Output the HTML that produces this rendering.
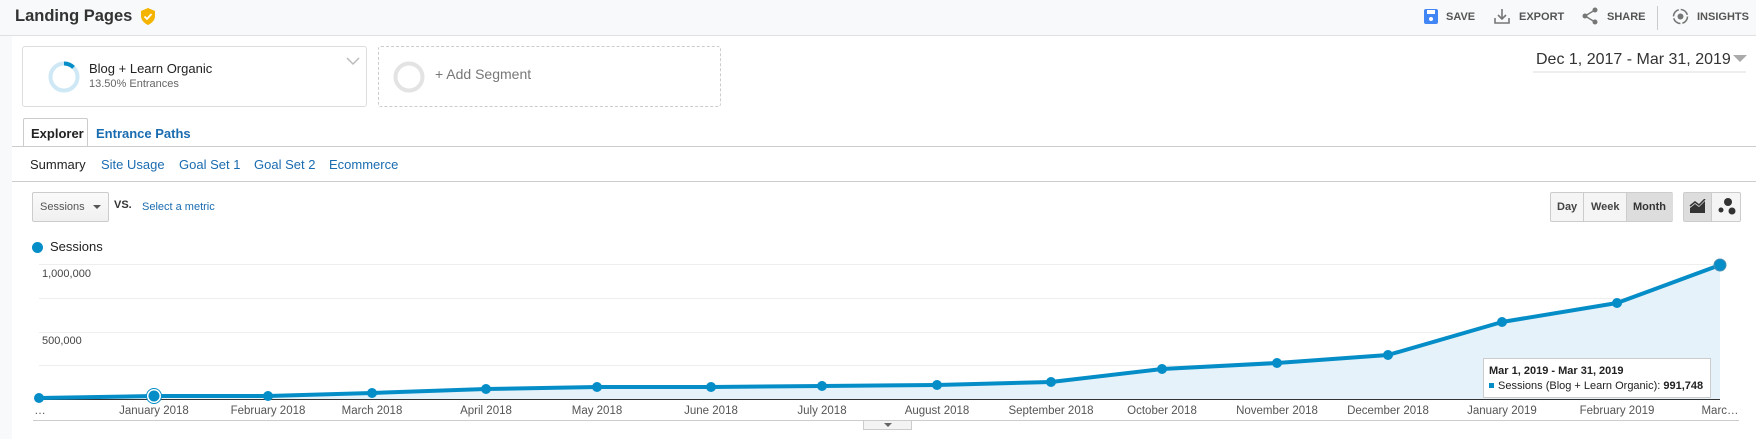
<!DOCTYPE html>
<html><head><meta charset="utf-8"><style>
*{margin:0;padding:0;box-sizing:border-box}
body{width:1756px;height:439px;overflow:hidden;background:#fff;font-family:"Liberation Sans",Arial,sans-serif;position:relative}
.a{position:absolute;white-space:nowrap}
.hdr{position:absolute;left:0;top:0;width:1756px;height:36px;background:#f8f9fa;border-bottom:1px solid #e0e0e0}
.strip{position:absolute;left:0;top:36px;width:12px;height:403px;background:#f8f9fa}
.hb{font-size:11px;font-weight:bold;color:#555;top:11px}
.blue{color:#1a6cb0}
</style></head><body>
<div class="hdr"></div>
<div class="strip"></div>
<div class="a" style="left:15px;top:7px;font-size:16.5px;font-weight:bold;color:#333">Landing Pages</div>
<svg class="a" style="left:141px;top:8px" width="14" height="17" viewBox="0 0 14 17"><path d="M7 0 L14 3 V8 C14 12 11 15 7 17 C3 15 0 12 0 8 V3Z" fill="#f4b400"/><path d="M3.5 8.5 L6 11 L10.5 6" stroke="#fff" stroke-width="1.8" fill="none"/></svg>

<svg class="a" style="left:1424px;top:9px" width="14" height="15"><rect x="0" y="0" width="14" height="15" rx="2" fill="#4285f4"/><rect x="3" y="1" width="8" height="4" fill="#fff"/><circle cx="7" cy="10" r="2" fill="#fff"/></svg>
<div class="a hb" style="left:1446px">SAVE</div>
<svg class="a" style="left:1494px;top:8px" width="16" height="16"><path d="M8 1V11M4 7L8 11L12 7M1 10V15H15V10" stroke="#777" stroke-width="1.6" fill="none"/></svg>
<div class="a hb" style="left:1519px">EXPORT</div>
<svg class="a" style="left:1582px;top:7px" width="16" height="18"><circle cx="13" cy="3" r="2.5" fill="#777"/><circle cx="3" cy="9" r="2.5" fill="#777"/><circle cx="13" cy="15" r="2.5" fill="#777"/><path d="M13 3L3 9L13 15" stroke="#777" stroke-width="1.4" fill="none"/></svg>
<div class="a hb" style="left:1607px">SHARE</div>
<div class="a" style="left:1657px;top:6px;width:1px;height:24px;background:#ccc"></div>
<svg class="a" style="left:1672px;top:8px" width="17" height="17"><circle cx="8.5" cy="8.5" r="7" stroke="#777" stroke-width="1.6" fill="none" stroke-dasharray="9 2"/><circle cx="8.5" cy="8.5" r="3" fill="#777"/></svg>
<div class="a hb" style="left:1697px">INSIGHTS</div>

<div class="a" style="left:22px;top:46px;width:345px;height:61px;border:1px solid #ddd;border-radius:3px"></div>
<svg class="a" style="left:48px;top:61px" width="32" height="32"><circle cx="16" cy="16" r="13.5" stroke="#cfe8f5" stroke-width="4" fill="none"/><path d="M16 2.5 A13.5 13.5 0 0 1 25.5 6.4" stroke="#058dc7" stroke-width="4" fill="none"/></svg>
<div class="a" style="left:89px;top:61px;font-size:13px;color:#222">Blog + Learn Organic</div>
<div class="a" style="left:89px;top:78px;font-size:11px;color:#666">13.50% Entrances</div>
<svg class="a" style="left:346px;top:57px" width="14" height="9"><path d="M1 1L7 7L13 1" stroke="#bbb" stroke-width="1.5" fill="none"/></svg>
<div class="a" style="left:378px;top:46px;width:343px;height:61px;border:1px dashed #ccc;border-radius:3px"></div>
<svg class="a" style="left:393px;top:61px" width="32" height="32"><circle cx="16" cy="16" r="13.5" stroke="#e3e3e3" stroke-width="4" fill="none"/></svg>
<div class="a" style="left:435px;top:66px;font-size:14px;color:#777">+ Add Segment</div>

<div class="a" style="left:1536px;top:51px;font-size:16px;color:#333">Dec 1, 2017 - Mar 31, 2019</div>
<svg class="a" style="left:1733px;top:55px" width="14" height="8"><path d="M0 0H14L7 7Z" fill="#aaa"/></svg>
<div class="a" style="left:1533px;top:71px;width:213px;height:2px;background:#eee"></div>

<div class="a" style="left:23px;top:118px;width:65px;height:29px;border:1px solid #ccc;border-bottom:none;background:#fff;border-radius:2px 2px 0 0"></div>
<div class="a" style="left:31px;top:126px;font-size:13px;font-weight:bold;color:#222">Explorer</div>
<div class="a blue" style="left:96px;top:126px;font-size:13px;font-weight:bold">Entrance Paths</div>
<div class="a" style="left:12px;top:146px;width:1744px;height:1px;background:#ccc"></div>
<div class="a" style="left:30px;top:157px;font-size:13px;color:#222">Summary</div>
<div class="a blue" style="left:101px;top:157px;font-size:13px">Site Usage</div>
<div class="a blue" style="left:179px;top:157px;font-size:13px">Goal Set 1</div>
<div class="a blue" style="left:254px;top:157px;font-size:13px">Goal Set 2</div>
<div class="a blue" style="left:329px;top:157px;font-size:13px">Ecommerce</div>
<div class="a" style="left:12px;top:181px;width:1744px;height:1px;background:#ccc"></div>

<div class="a" style="left:32px;top:192px;width:77px;height:30px;border:1px solid #ccc;border-radius:2px;background:linear-gradient(#fafafa,#f0f0f0)"></div>
<div class="a" style="left:40px;top:201px;font-size:11px;color:#555">Sessions</div>
<svg class="a" style="left:93px;top:205px" width="8" height="5"><path d="M0 0H8L4 4Z" fill="#555"/></svg>
<div class="a" style="left:114px;top:199px;font-size:11px;font-weight:bold;color:#333">VS.</div>
<div class="a blue" style="left:142px;top:201px;font-size:11px">Select a metric</div>

<div class="a" style="left:1550px;top:192px;width:123px;height:30px;border:1px solid #ccc;border-radius:2px;background:#f5f5f5"></div>
<div class="a" style="left:1583px;top:193px;width:1px;height:28px;background:#ccc"></div>
<div class="a" style="left:1626px;top:193px;width:47px;height:28px;background:#ddd;border-left:1px solid #ccc"></div>
<div class="a" style="left:1557px;top:201px;font-size:11px;font-weight:bold;color:#444">Day</div>
<div class="a" style="left:1591px;top:201px;font-size:11px;font-weight:bold;color:#444">Week</div>
<div class="a" style="left:1633px;top:201px;font-size:11px;font-weight:bold;color:#333">Month</div>
<div class="a" style="left:1683px;top:192px;width:58px;height:30px;border:1px solid #ccc;border-radius:2px;background:#f5f5f5"></div>
<div class="a" style="left:1684px;top:193px;width:28px;height:28px;background:#ddd;border-right:1px solid #ccc"></div>
<svg class="a" style="left:1689px;top:199px" width="17" height="15"><path d="M1 14V9L6 5L10 8L16 2V14Z" fill="#333"/><path d="M1 7L6 3L10 6L16 0" stroke="#333" stroke-width="1.5" fill="none"/></svg>
<svg class="a" style="left:1717px;top:197px" width="20" height="19"><circle cx="11" cy="5" r="4" fill="#333"/><circle cx="4" cy="13" r="2.5" fill="#333"/><circle cx="15" cy="14" r="3.5" fill="#333"/></svg>

<div class="a" style="left:32px;top:242px;width:11px;height:11px;border-radius:50%;background:#058dc7"></div>
<div class="a" style="left:50px;top:239px;font-size:13px;color:#222">Sessions</div>

<svg class="a" style="left:0;top:0" width="1756" height="439">
<g stroke="#eee" stroke-width="1"><line x1="39" y1="264.5" x2="1720" y2="264.5"/><line x1="39" y1="298.5" x2="1720" y2="298.5"/><line x1="39" y1="332.5" x2="1720" y2="332.5"/><line x1="39" y1="365.5" x2="1720" y2="365.5"/></g>
<g font-family="Liberation Sans, Arial, sans-serif" font-size="11" fill="#444"><text x="42" y="277">1,000,000</text><text x="42" y="344">500,000</text></g>
<path d="M39 398 L154 396 L268 396 L372 393 L486 389 L597 387 L711 387 L822 386 L937 385 L1051 382 L1162 369 L1277 363 L1388 355 L1502 322 L1617 303 L1720 265 L1720 399 L39 399Z" fill="#e6f2f9"/>
<line x1="39" y1="399.5" x2="1720" y2="399.5" stroke="#333" stroke-width="1"/>
<path d="M39 398 L154 396 L268 396 L372 393 L486 389 L597 387 L711 387 L822 386 L937 385 L1051 382 L1162 369 L1277 363 L1388 355 L1502 322 L1617 303 L1720 265" fill="none" stroke="#058dc7" stroke-width="4" stroke-linejoin="round"/>
<g fill="#058dc7"><circle cx="39" cy="398" r="5"/><circle cx="268" cy="396" r="5"/><circle cx="372" cy="393" r="5"/><circle cx="486" cy="389" r="5"/><circle cx="597" cy="387" r="5"/><circle cx="711" cy="387" r="5"/><circle cx="822" cy="386" r="5"/><circle cx="937" cy="385" r="5"/><circle cx="1051" cy="382" r="5"/><circle cx="1162" cy="369" r="5"/><circle cx="1277" cy="363" r="5"/><circle cx="1388" cy="355" r="5"/><circle cx="1502" cy="322" r="5"/><circle cx="1617" cy="303" r="5"/><circle cx="1720" cy="265" r="6" stroke="#4a90b8" stroke-width="1"/></g>
<circle cx="154" cy="396" r="6.5" fill="#058dc7" stroke="#fff" stroke-width="2"/><circle cx="154" cy="396" r="7.5" fill="none" stroke="#058dc7" stroke-width="1"/>
<g font-family="Liberation Sans, Arial, sans-serif" font-size="11.5" fill="#555" text-anchor="middle">
<text x="40" y="414">…</text><text x="154" y="414">January 2018</text><text x="268" y="414">February 2018</text><text x="372" y="414">March 2018</text><text x="486" y="414">April 2018</text><text x="597" y="414">May 2018</text><text x="711" y="414">June 2018</text><text x="822" y="414">July 2018</text><text x="937" y="414">August 2018</text><text x="1051" y="414">September 2018</text><text x="1162" y="414">October 2018</text><text x="1277" y="414">November 2018</text><text x="1388" y="414">December 2018</text><text x="1502" y="414">January 2019</text><text x="1617" y="414">February 2019</text><text x="1720" y="414">Marc…</text></g>
<line x1="33" y1="420.5" x2="1739" y2="420.5" stroke="#ccc"/>
<rect x="863.5" y="420.5" width="48" height="9" fill="#f3f3f3" stroke="#ccc"/>
<path d="M884 423H892L888 427Z" fill="#666"/>
<rect x="1483.5" y="358.5" width="227" height="39" fill="#fff" stroke="#ccc"/>
<text x="1489" y="374" font-family="Liberation Sans, Arial, sans-serif" font-size="11" font-weight="bold" fill="#222">Mar 1, 2019 - Mar 31, 2019</text>
<rect x="1489" y="383" width="5" height="5" fill="#058dc7"/>
<text x="1498" y="389" font-family="Liberation Sans, Arial, sans-serif" font-size="11" fill="#222">Sessions (Blog + Learn Organic): <tspan font-weight="bold">991,748</tspan></text>
</svg>
</body></html>
